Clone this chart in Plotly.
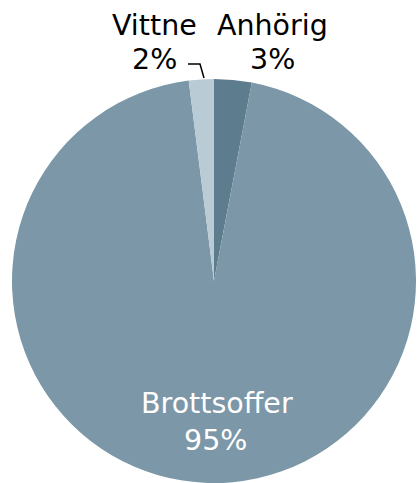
import plotly.graph_objects as go

labels = ["Anhörig", "Brottsoffer", "Vittne"]
values = [3, 95, 2]
colors = ["#5d7d8f", "#7c97a7", "#b9cbd5"]
text_colors = ["#000000", "#ffffff", "#000000"]

W, H = 419, 483
ML, MR, MT, MB = 9, 0, 79, 0
PW, PH = W - ML - MR, H - MT - MB


def px(x):
    return (x - ML) / PW


def py(y):
    return (H - MB - y) / PH


fig = go.Figure(go.Pie(
    labels=labels,
    values=values,
    sort=False,
    direction="clockwise",
    rotation=0,
    marker=dict(colors=colors, line=dict(width=0)),
    textinfo="none",
    hoverinfo="skip",
))

# label placement (pixel centres of label line and percent line)
label_pos = {
    "Anhörig": (272, 25, 272, 60),
    "Brottsoffer": (217, 403, 215, 440),
    "Vittne": (154, 25, 154, 60),
}
total = sum(values)
annotations = []
for lab, val, tc in zip(labels, values, text_colors):
    x1, y1, x2, y2 = label_pos[lab]
    pct = f"{round(val / total * 100)}%"
    for txt, xx, yy in ((lab, x1, y1), (pct, x2, y2)):
        annotations.append(dict(
            text=txt, x=px(xx), y=py(yy), xref="paper", yref="paper",
            xanchor="center", yanchor="middle", showarrow=False,
            font=dict(family="DejaVu Sans", size=28.5, color=tc),
        ))

# leader line for Vittne
path = f"M {px(188)},{py(64)} L {px(200)},{py(64)} L {px(204)},{py(78)}"
fig.add_shape(type="path", path=path, xref="paper", yref="paper",
              line=dict(color="#000000", width=1.5))

fig.update_layout(
    width=W, height=H,
    margin=dict(l=ML, r=MR, t=MT, b=MB),
    showlegend=False,
    paper_bgcolor="white",
    plot_bgcolor="white",
    annotations=annotations,
    font=dict(family="DejaVu Sans"),
)

fig.write_html(
    "out.html",
    config={"displayModeBar": False, "staticPlot": True},
    post_script="document.body.style.margin='0';document.body.style.overflow='hidden';",
)
